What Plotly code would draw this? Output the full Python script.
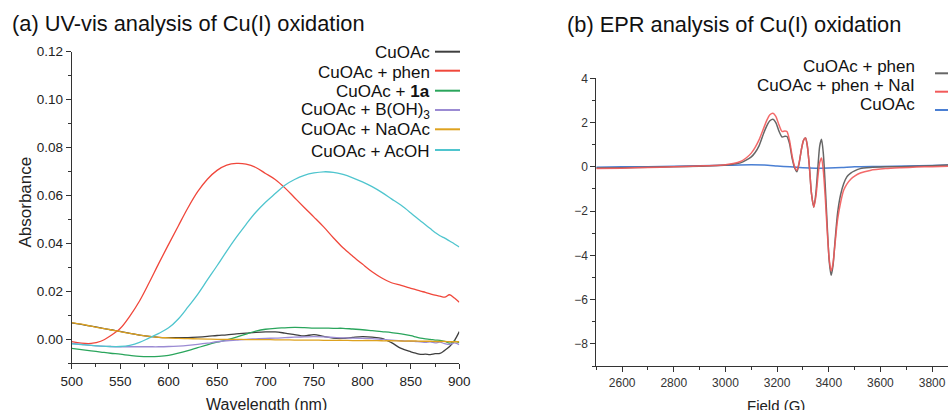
import plotly.graph_objects as go

W, H = 948, 410
FONT = "Liberation Sans, Arial, sans-serif"

# ---------------- (a) UV-vis data ----------------
wavelength = [500, 510, 520, 530, 540, 550, 560, 570, 580, 590, 600, 610, 620, 630, 640,
              650, 660, 670, 680, 690, 700, 710, 720, 730, 740, 750, 760, 770, 780, 790,
              800, 810, 820, 830, 840, 850, 855, 860, 865, 870, 875, 880, 885, 890, 895, 900]

abs_cuoac = [0.0069, 0.0062, 0.0055, 0.0048, 0.0040, 0.0033, 0.0025, 0.0018, 0.0012, 0.0008,
             0.0007, 0.0007, 0.0007, 0.0009, 0.0012, 0.0016, 0.0019, 0.0023, 0.0026, 0.0029,
             0.0031, 0.0031, 0.0026, 0.0020, 0.0014, 0.0020, 0.0012, 0.0005, 0.0004, 0.0008,
             0.0011, 0.0009, 0.0004, -0.0014, -0.0038, -0.0052, -0.0058, -0.0063, -0.0062, -0.0064,
             -0.0060, -0.0059, -0.0046, -0.0030, -0.0005, 0.0032]

abs_phen = [-0.0010, -0.0016, -0.0017, -0.0008, 0.0015, 0.0045, 0.0097, 0.0160, 0.0237, 0.0318,
            0.0396, 0.0473, 0.0549, 0.0616, 0.0668, 0.0705, 0.0727, 0.0734, 0.0731, 0.0717,
            0.0692, 0.0667, 0.0632, 0.0591, 0.0550, 0.0510, 0.0469, 0.0424, 0.0382, 0.0347,
            0.0314, 0.0282, 0.0256, 0.0236, 0.0225, 0.0213, 0.0207, 0.0201, 0.0196, 0.0190,
            0.0184, 0.0180, 0.0176, 0.0186, 0.0172, 0.0155]

abs_1a = [-0.0038, -0.0043, -0.0048, -0.0053, -0.0058, -0.0062, -0.0067, -0.0071, -0.0072, -0.0071,
          -0.0067, -0.0058, -0.0047, -0.0035, -0.0023, -0.0012, -0.0002, 0.0009, 0.0022, 0.0034,
          0.0042, 0.0046, 0.0048, 0.0050, 0.0049, 0.0047, 0.0047, 0.0046, 0.0046, 0.0043,
          0.0040, 0.0036, 0.0032, 0.0028, 0.0023, 0.0015, 0.0010, 0.0005, 0.0002, 0.0000,
          -0.0003, -0.0004, -0.0008, -0.0016, -0.0008, -0.0014]

abs_boh3 = [-0.0017, -0.0021, -0.0025, -0.0028, -0.0030, -0.0031, -0.0031, -0.0031, -0.0031, -0.0031,
            -0.0030, -0.0028, -0.0025, -0.0021, -0.0016, -0.0010, -0.0006, -0.0003, 0.0000, 0.0002,
            0.0004, 0.0005, 0.0007, 0.0009, 0.0010, 0.0011, 0.0010, 0.0008, 0.0006, 0.0005,
            0.0004, 0.0003, 0.0000, -0.0003, -0.0006, -0.0008, -0.0009, -0.0010, -0.0013, -0.0011,
            -0.0015, -0.0012, -0.0018, -0.0021, -0.0015, -0.0022]

abs_naoac = [0.0070, 0.0063, 0.0055, 0.0047, 0.0040, 0.0032, 0.0025, 0.0018, 0.0012, 0.0008,
             0.0006, 0.0004, 0.0003, 0.0002, 0.0001, 0.0000, 0.0000, 0.0000, -0.0001, -0.0001,
             -0.0001, -0.0002, -0.0002, -0.0003, -0.0003, -0.0003, -0.0004, -0.0004, -0.0004, -0.0005,
             -0.0005, -0.0005, -0.0006, -0.0006, -0.0007, -0.0007, -0.0007, -0.0008, -0.0008, -0.0008,
             -0.0009, -0.0009, -0.0009, -0.0010, -0.0010, -0.0010]

abs_acoh = [-0.0019, -0.0022, -0.0025, -0.0028, -0.0030, -0.0030, -0.0025, -0.0013, 0.0006, 0.0025,
            0.0048, 0.0085, 0.0135, 0.0188, 0.0248, 0.0307, 0.0368, 0.0426, 0.0480, 0.0530,
            0.0572, 0.0608, 0.0643, 0.0667, 0.0684, 0.0694, 0.0699, 0.0697, 0.0688, 0.0674,
            0.0657, 0.0637, 0.0613, 0.0586, 0.0559, 0.0527, 0.0510, 0.0494, 0.0478, 0.0462,
            0.0446, 0.0432, 0.0422, 0.0410, 0.0398, 0.0385]

uv_names = ["CuOAc", "CuOAc + phen", "CuOAc + <b>1a</b>", "CuOAc + B(OH)<sub>3</sub>",
            "CuOAc + NaOAc", "CuOAc + AcOH"]
uv_series = [abs_cuoac, abs_phen, abs_1a, abs_boh3, abs_naoac, abs_acoh]
uv_colors = ["#3f3f3f", "#f0473b", "#2aa55c", "#9b8bd3", "#dea21f", "#4fc5ce"]

# ---------------- (b) EPR data ----------------
field = [2500, 2600, 2700, 2800, 2900, 2950, 3000, 3030, 3058, 3080, 3100, 3115, 3130, 3148,
         3160, 3172, 3184, 3195, 3207, 3219, 3230, 3238, 3248, 3258, 3268, 3277, 3285, 3295,
         3303, 3310, 3317, 3325, 3333, 3342, 3350, 3358, 3365, 3372, 3379, 3387, 3395, 3402,
         3409, 3416, 3424, 3434, 3446, 3458, 3470, 3485, 3500, 3522, 3560, 3620, 3680, 3740,
         3800, 3862]

epr_phen = [-0.05, -0.04, -0.02, 0.00, 0.03, 0.05, 0.08, 0.12, 0.18, 0.30, 0.45, 0.65, 0.95, 1.52,
            1.85, 2.08, 2.15, 2.00, 1.62, 1.35, 1.38, 1.37, 1.05, 0.40, -0.05, -0.22, 0.15, 0.85,
            1.22, 1.30, 0.95, 0.00, -1.20, -1.82, -1.20, 0.00, 0.95, 1.25, 0.60, -1.00, -2.90, -4.30,
            -4.90, -4.50, -3.40, -2.10, -1.25, -0.75, -0.45, -0.28, -0.18, -0.08, -0.03, 0.00, 0.01, 0.03,
            0.05, 0.08]

epr_phen_nai = [-0.08, -0.06, -0.03, 0.00, 0.04, 0.06, 0.10, 0.15, 0.24, 0.40, 0.62, 0.88, 1.22, 1.75,
                2.10, 2.35, 2.42, 2.28, 1.90, 1.60, 1.62, 1.60, 1.20, 0.50, 0.00, -0.15, 0.18, 0.85,
                1.22, 1.30, 0.95, 0.00, -1.20, -1.82, -1.35, -0.45, 0.20, 0.40, -0.20, -1.50, -3.10, -4.20,
                -4.70, -4.40, -3.50, -2.40, -1.60, -1.05, -0.78, -0.56, -0.42, -0.28, -0.16, -0.08, -0.04, -0.01,
                0.01, 0.03]

field_cuoac = [2500, 2600, 2700, 2800, 2900, 3000, 3100, 3150, 3200, 3250, 3300, 3350, 3400,
               3450, 3500, 3600, 3700, 3800, 3862]
epr_cuoac = [-0.02, 0.00, 0.01, 0.03, 0.05, 0.07, 0.09, 0.08, 0.04, 0.00, -0.04, -0.06, -0.05,
             -0.03, 0.00, 0.02, 0.04, 0.06, 0.08]

epr_names = ["CuOAc + phen", "CuOAc + phen + NaI", "CuOAc"]
epr_colors = ["#666666", "#f25a5a", "#4a7fd3"]

fig = go.Figure()

for name, ys, col in zip(uv_names, uv_series, uv_colors):
    fig.add_trace(go.Scatter(x=wavelength, y=ys, mode="lines", name=name,
                             line=dict(color=col, width=1.3, shape="spline", smoothing=1.0),
                             xaxis="x", yaxis="y", showlegend=False))

fig.add_trace(go.Scatter(x=field_cuoac, y=epr_cuoac, mode="lines", name=epr_names[2],
                         line=dict(color=epr_colors[2], width=1.5, shape="spline", smoothing=0.8),
                         xaxis="x2", yaxis="y2", showlegend=False))
fig.add_trace(go.Scatter(x=field, y=epr_phen, mode="lines", name=epr_names[0],
                         line=dict(color=epr_colors[0], width=1.5, shape="spline", smoothing=0.7),
                         xaxis="x2", yaxis="y2", showlegend=False))
fig.add_trace(go.Scatter(x=field, y=epr_phen_nai, mode="lines", name=epr_names[1],
                         line=dict(color=epr_colors[1], width=1.5, shape="spline", smoothing=0.7),
                         xaxis="x2", yaxis="y2", showlegend=False, opacity=0.9))

def px(x):
    return x / W

def py(y):
    return (H - y) / H

axis_common = dict(showline=True, linecolor="#333333", linewidth=1, ticks="outside",
                   ticklen=5, tickwidth=1, tickcolor="#333333", showgrid=False, zeroline=False,
                   automargin=False, mirror=False)

fig.update_layout(
    template="none",
    width=W, height=H,
    margin=dict(l=0, r=0, t=0, b=0, pad=0),
    paper_bgcolor="white", plot_bgcolor="white",
    font=dict(family=FONT, color="#222222"),
    showlegend=False,
    xaxis=dict(domain=[px(71.7), px(459.3)], range=[500, 900], dtick=50, tick0=500,
               tickfont=dict(size=13.5, color="#222222"), anchor="y",
               minor=dict(dtick=25, ticklen=3, ticks="outside", tickcolor="#333333"),
               **axis_common),
    yaxis=dict(domain=[py(363.3), py(51.7)], range=[-0.01, 0.12], dtick=0.02, tick0=0,
               tickformat=".2f", tickfont=dict(size=13.5, color="#222222"), anchor="x",
               minor=dict(dtick=0.01, ticklen=3, ticks="outside", tickcolor="#333333"),
               **axis_common),
    xaxis2=dict(domain=[px(596.3), 1.0], range=[2500, 3861.6], dtick=200, tick0=2600,
                tickfont=dict(size=12, color="#333333"), anchor="y2",
                minor=dict(dtick=100, ticklen=3, ticks="outside", tickcolor="#333333"),
                **axis_common),
    yaxis2=dict(domain=[py(366.1), py(78.3)], range=[-9, 4], dtick=2, tick0=0,
                tickfont=dict(size=12, color="#333333"), anchor="x2",
                minor=dict(dtick=1, ticklen=3, ticks="outside", tickcolor="#333333"),
                **axis_common),
)

ann = []
# panel titles
ann.append(dict(text="(a) UV-vis analysis of Cu(I) oxidation", x=px(10), y=py(23),
                xanchor="left", yanchor="middle", font=dict(size=21.8, color="#111111")))
ann.append(dict(text="(b) EPR analysis of Cu(I) oxidation", x=px(565), y=py(24.5),
                xanchor="left", yanchor="middle", font=dict(size=21.8, color="#111111")))
# axis titles
ann.append(dict(text="Absorbance", x=px(25), y=py(202.5), textangle=-90,
                xanchor="center", yanchor="middle", font=dict(size=17, color="#222222")))
ann.append(dict(text="Wavelength (nm)", x=px(266), y=py(404),
                xanchor="center", yanchor="middle", font=dict(size=16, color="#222222")))
ann.append(dict(text="Field (G)", x=px(776), y=py(405),
                xanchor="center", yanchor="middle", font=dict(size=15, color="#222222")))

shapes = []
# UV-vis legend
uv_leg_y = [52.7, 72.7, 91.7, 110.5, 130.0, 151.7]
uv_line_y = [51.7, 70.7, 90.7, 110.0, 129.3, 150.0]
for name, col, ty, ly in zip(uv_names, uv_colors, uv_leg_y, uv_line_y):
    ann.append(dict(text=name, x=px(431.5), y=py(ty), xanchor="right", yanchor="middle",
                    font=dict(size=17, color="#111111")))
    shapes.append(dict(type="line", xref="paper", yref="paper", x0=px(435), x1=px(460),
                       y0=py(ly), y1=py(ly), line=dict(color=col, width=2)))

# EPR legend
epr_leg_y = [66.7, 86.0, 104.5]
epr_line_y = [73.3, 91.7, 110.0]
for name, col, ty, ly in zip(epr_names, epr_colors, epr_leg_y, epr_line_y):
    ann.append(dict(text=name, x=px(917), y=py(ty), xanchor="right", yanchor="middle",
                    font=dict(size=17, color="#111111")))
    shapes.append(dict(type="line", xref="paper", yref="paper", x0=px(935), x1=1.0,
                       y0=py(ly), y1=py(ly), line=dict(color=col, width=2)))

for a in ann:
    a.update(xref="paper", yref="paper", showarrow=False)

fig.update_layout(annotations=ann, shapes=shapes)

fig.write_html(
    "out.html",
    config={"displayModeBar": False, "staticPlot": True},
    post_script="document.body.style.margin='0';document.body.style.padding='0';"
                "document.body.style.overflow='hidden';"
                "document.documentElement.style.overflow='hidden';",
)
